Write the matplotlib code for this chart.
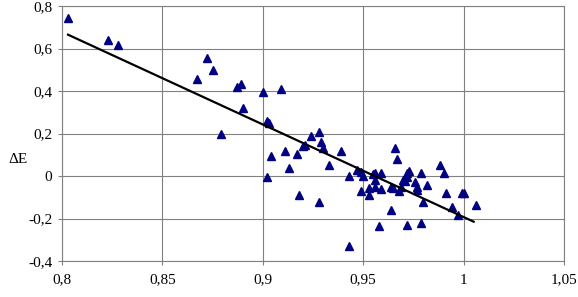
import matplotlib
matplotlib.use("Agg")
import matplotlib.pyplot as plt
from matplotlib.ticker import FuncFormatter

# scatter points (x, dE)
x_pts = [0.803, 0.823, 0.828, 0.867, 0.872, 0.875, 0.879, 0.887, 0.889, 0.890,
         0.900, 0.902, 0.903, 0.909, 0.911, 0.902, 0.904, 0.913, 0.917, 0.918,
         0.920, 0.921, 0.924, 0.928, 0.929, 0.930, 0.933, 0.928, 0.939, 0.943,
         0.947, 0.949, 0.950, 0.949, 0.953, 0.953, 0.955, 0.956, 0.956, 0.956,
         0.959, 0.959, 0.943, 0.958, 0.964, 0.966, 0.967, 0.964, 0.965, 0.968,
         0.969, 0.970, 0.971, 0.972, 0.973, 0.972, 0.972, 0.976, 0.977, 0.977,
         0.979, 0.980, 0.979, 0.982, 0.988, 0.990, 0.991, 0.994, 0.997, 0.999,
         1.000, 1.006]
y_pts = [0.745, 0.640, 0.615, 0.456, 0.554, 0.498, 0.200, 0.420, 0.434, 0.320,
         0.395, 0.257, 0.250, 0.410, 0.120, -0.003, 0.095, 0.038, 0.103, -0.090,
         0.140, 0.145, 0.190, 0.205, 0.158, 0.130, 0.050, -0.120, 0.120, 0.000,
         0.030, 0.020, 0.000, -0.070, -0.055, -0.090, 0.010, 0.015, -0.020, -0.050,
         0.015, -0.060, -0.330, -0.235, -0.160, 0.130, 0.080, -0.050, -0.055, -0.070,
         -0.050, -0.020, -0.023, -0.004, 0.024, 0.015, -0.230, -0.028, -0.050, -0.065,
         0.015, -0.120, -0.220, -0.040, 0.050, 0.015, -0.078, -0.145, -0.185, -0.078,
         -0.080, -0.135]

# linear trend line end points
trend_x = [0.803, 1.005]
trend_y = [0.665, -0.215]

x_ticks = [0.8, 0.85, 0.9, 0.95, 1.0, 1.05]
y_ticks = [-0.4, -0.2, 0, 0.2, 0.4, 0.6, 0.8]

plt.rcParams['font.family'] = ['Liberation Serif', 'DejaVu Serif']

fig = plt.figure(figsize=(5.78, 2.97), dpi=100)
ax = fig.add_axes([0.1073, 0.1212, 0.8685, 0.8586])

ax.plot(x_pts, y_pts, '^', color='#000080', ms=6, mec='#000080', zorder=3)
ax.plot(trend_x, trend_y, color='black', lw=1.6, zorder=4)

ax.set_xlim(0.8, 1.05)
ax.set_ylim(-0.4, 0.8)
ax.set_xticks(x_ticks)
ax.set_yticks(y_ticks)

def comma(v, pos):
    s = ('%.2f' % v).rstrip('0').rstrip('.')
    if s == '-0':
        s = '0'
    return s.replace('.', ',')

ax.xaxis.set_major_formatter(FuncFormatter(comma))
ax.yaxis.set_major_formatter(FuncFormatter(comma))
ax.tick_params(labelsize=11, length=3, color='#808080', pad=4)
ax.tick_params(axis='x', pad=6)

ax.grid(True, color='#808080', lw=0.8)
ax.set_axisbelow(True)
for sp in ax.spines.values():
    sp.set_edgecolor('#808080')
    sp.set_linewidth(0.8)

ax.set_ylabel('ΔE', rotation=0, fontsize=11, va='center', ha='center')
ax.yaxis.set_label_coords(-0.088, 0.40)

fig.savefig('out.png', dpi=100)
